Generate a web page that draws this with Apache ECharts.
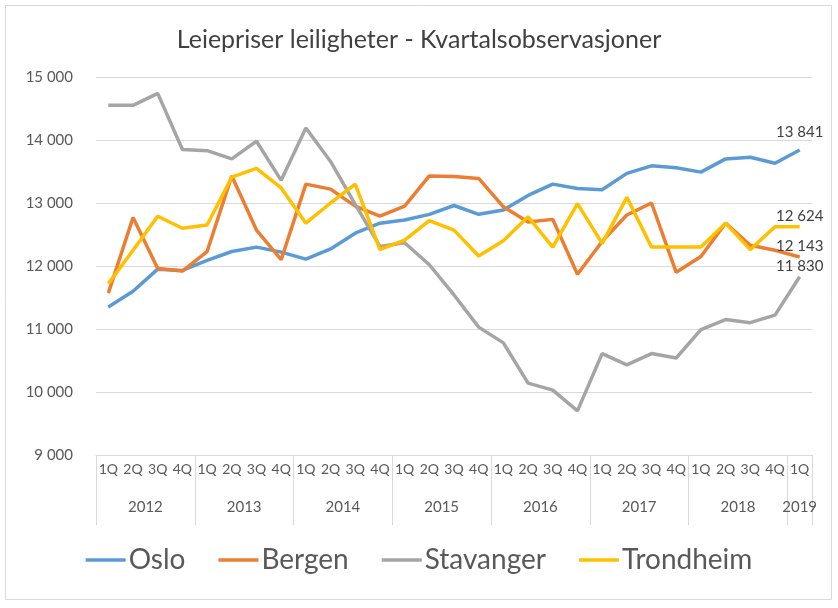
<!DOCTYPE html>
<html>
<head>
<meta charset="utf-8">
<script src="https://cdn.jsdelivr.net/npm/echarts@6/dist/echarts.min.js"></script>
<style>
html,body{margin:0;padding:0;background:#fff;}
#chart{width:838px;height:608px;}
</style>
</head>
<body>
<div id="chart"></div>
<script>
const quarters = ['1Q','2Q','3Q','4Q','1Q','2Q','3Q','4Q','1Q','2Q','3Q','4Q','1Q','2Q','3Q','4Q','1Q','2Q','3Q','4Q','1Q','2Q','3Q','4Q','1Q','2Q','3Q','4Q','1Q'];
const years = ['2012','2013','2014','2015','2016','2017','2018','2019'];
const quartersPerYear = [4,4,4,4,4,4,4,1];
const yTicks = [9000,10000,11000,12000,13000,14000,15000];

const oslo = [11350,11600,11950,11930,12090,12230,12300,12220,12110,12270,12520,12680,12730,12820,12960,12820,12890,13120,13300,13230,13210,13470,13590,13560,13490,13700,13725,13630,13841];
const bergen = [11570,12770,11960,11920,12230,13430,12570,12100,13300,13220,12950,12790,12950,13430,13420,13390,12940,12700,12740,11870,12390,12810,13000,11900,12150,12680,12330,12250,12143];
const stavanger = [14550,14550,14740,13850,13830,13700,13980,13360,14190,13660,12980,12310,12370,12020,11540,11030,10780,10140,10030,9700,10610,10430,10610,10540,10990,11150,11100,11220,11830];
const trondheim = [11720,12250,12790,12600,12650,13410,13550,13240,12680,13000,13300,12260,12410,12720,12570,12160,12400,12780,12300,12990,12360,13090,12300,12300,12300,12680,12260,12624,12624];

const cities = ['Oslo','Bergen','Stavanger','Trondheim'];
const seriesData = [oslo, bergen, stavanger, trondheim];
const colors = ['#5B9BD5','#ED7D31','#A5A5A5','#FFC000'];
const labelDist = [10,3,3,3];

// year boundary and centre positions on a 0..N value scale
const boundaries = [0];
const centres = [];
quartersPerYear.forEach(function(n){
  const s = boundaries[boundaries.length-1];
  centres.push(s + n/2);
  boundaries.push(s + n);
});

function fmt(v){
  return String(Math.round(v)).replace(/\B(?=(\d{3})+(?!\d))/g, ' ');
}

const FONT = 'Lato';
const chart = echarts.init(document.getElementById('chart'), null, {renderer:'canvas'});
chart.setOption({
  animation:false,
  textStyle:{fontFamily:FONT},
  color:colors,
  title:{
    text:'Leiepriser leiligheter - Kvartalsobservasjoner',
    left:'center', top:22,
    textStyle:{fontFamily:FONT,fontSize:25,fontWeight:'normal',color:'#404040'}
  },
  graphic:[{
    type:'rect', left:3, top:3, silent:true,
    shape:{width:826,height:594},
    style:{fill:'none',stroke:'#D9D9D9',lineWidth:1}
  }],
  grid:{left:96,right:26,top:77,bottom:153,containLabel:false},
  legend:{
    top:541, left:'center',
    icon:'rect', itemWidth:40, itemHeight:3.5, itemGap:33,
    textStyle:{fontFamily:FONT,fontSize:28,color:'#595959',padding:[0,0,0,-2]},
    data:cities
  },
  xAxis:[{
    type:'category', data:quarters, boundaryGap:true, position:'bottom',
    axisLine:{show:true,lineStyle:{color:'#D9D9D9',width:1}},
    axisTick:{show:false},
    axisLabel:{interval:0,fontSize:14,color:'#595959',margin:7,fontFamily:FONT},
    splitLine:{show:false}
  },{
    type:'value', min:0, max:quarters.length, position:'bottom',
    axisLine:{show:false},
    splitLine:{show:false},
    axisTick:{show:true, customValues:boundaries, length:70, inside:false, lineStyle:{color:'#D9D9D9',width:1}},
    axisLabel:{show:true, customValues:centres, margin:45, fontSize:15, color:'#595959', fontFamily:FONT,
      formatter:function(v){
        const i = centres.findIndex(function(c){return Math.abs(c-v)<1e-6;});
        return i>=0 ? years[i] : '';
      }}
  }],
  yAxis:{
    type:'value', min:yTicks[0], max:yTicks[yTicks.length-1], interval:1000,
    axisLine:{show:false}, axisTick:{show:false},
    axisLabel:{fontSize:15,color:'#595959',margin:23,fontFamily:FONT,formatter:fmt},
    splitLine:{lineStyle:{color:'#D9D9D9',width:1}}
  },
  series:cities.map(function(name,k){
    const arr = seriesData[k];
    return {
      name:name, type:'line', xAxisIndex:0, symbol:'circle', symbolSize:0.5, showSymbol:true, smooth:false,
      lineStyle:{width:3.5,color:colors[k]},
      itemStyle:{color:colors[k]},
      labelLayout:{hideOverlap:false},
      data:arr.map(function(v,i){
        if(i===arr.length-1){
          return {value:v,label:{show:true,position:'top',distance:labelDist[k],offset:[1,0],
            fontSize:15,color:'#404040',fontFamily:FONT,formatter:function(p){return fmt(p.value);}}};
        }
        return v;
      })
    };
  })
});
</script>
</body>
</html>
